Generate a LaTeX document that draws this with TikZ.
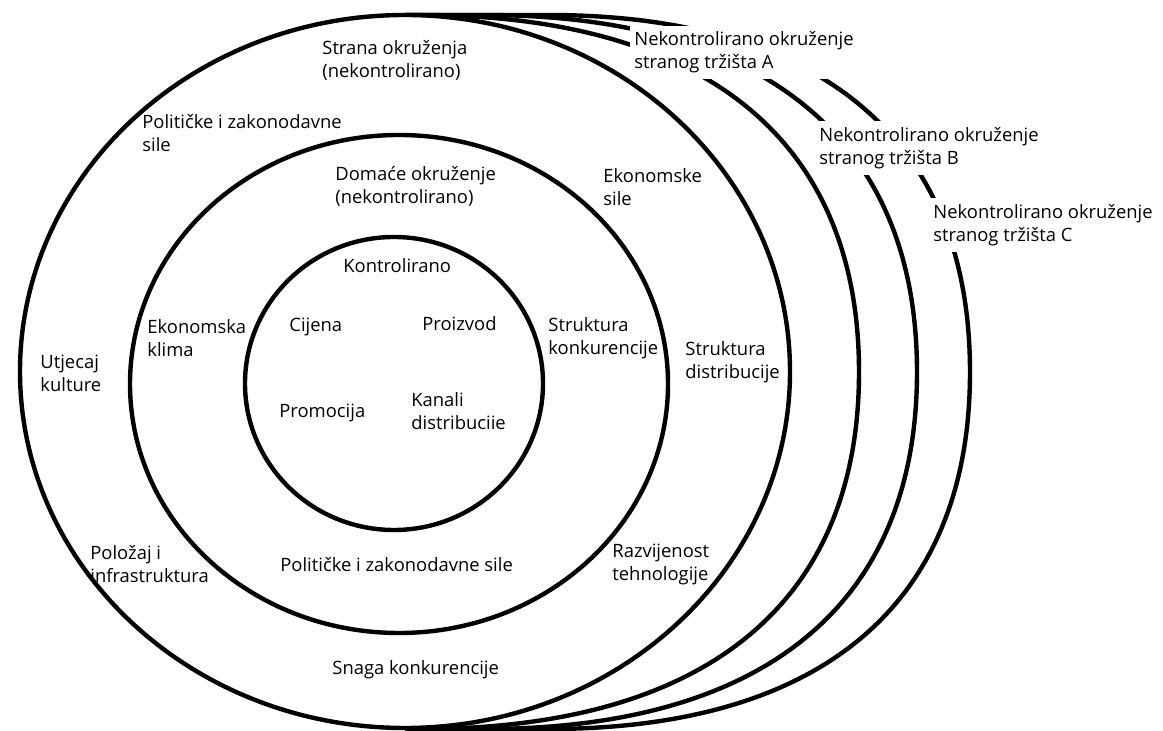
\documentclass[tikz,border=0pt]{standalone}
\usepackage{fontspec}
\setmainfont{Open Sans}
\tikzset{
  ring/.style={line width=2.2pt},
  lbl/.style={anchor=west, align=left, inner sep=0pt, font=\fontsize{9.2}{11.5}\selectfont},
  marketlbl/.style={lbl, fill=white, inner xsep=2pt, inner ysep=3pt}
}
\begin{document}
\begin{tikzpicture}[x=0.5pt,y=-0.5pt]
	\useasboundingbox (0,0) rectangle (1163,731);
	\clip (0,0) rectangle (1163,731);
	% foreign markets C, B, A behind
	\draw[ring] (405,15) -- (548,15) .. controls (822,15) and (970,140) .. (970,372)
		.. controls (970,604) and (822,729) .. (548,729) -- (405,729);
	\draw[ring] (405,15) -- (484,15) .. controls (765,15) and (917,140) .. (917,372)
		.. controls (917,604) and (765,729) .. (484,729) -- (405,729);
	\draw[ring] (405,15) -- (420,15) .. controls (705,15) and (859,140) .. (859,372)
		.. controls (859,604) and (705,729) .. (420,729) -- (405,729);
	% foreign, domestic, controlled
	\draw[ring,fill=white] (405,371.5) ellipse [x radius=385, y radius=356.5];
	\draw[ring] (399,384) ellipse [x radius=269, y radius=249];
	\draw[ring] (394,383.5) ellipse [x radius=149, y radius=146.5];
	% market labels
	\node[marketlbl] (mktA) at (630,52.5) {Nekontrolirano okruženje\\stranog tržišta A};
	\node[marketlbl] (mktB) at (815,148) {Nekontrolirano okruženje\\stranog tržišta B};
	\node[marketlbl] (mktC) at (929,225) {Nekontrolirano okruženje\\stranog tržišta C};
	% foreign ring
	\node[lbl] (strana) at (322,60.5) {Strana okruženja\\(nekontrolirano)};
	\node[lbl] (polTop) at (142,133.5) {Političke i zakonodavne\\sile};
	\node[lbl] (ekoSile) at (603,187.5) {Ekonomske\\sile};
	\node[lbl] (utjecaj) at (40,373.5) {Utjecaj\\kulture};
	\node[lbl] (strukDist) at (685,362.5) {Struktura\\distribucije};
	\node[lbl] (polozaj) at (90,564.5) {Položaj i\\infrastruktura};
	\node[lbl] (razvoj) at (612,564.5) {Razvijenost\\tehnologije};
	\node[lbl] (snaga) at (332,670) {Snaga konkurencije};
	% domestic ring
	\node[lbl] (domace) at (335,186.5) {Domaće okruženje\\(nekontrolirano)};
	\node[lbl] (ekoKlima) at (147,338) {Ekonomska\\klima};
	\node[lbl] (strukKonk) at (548,338) {Struktura\\konkurencije};
	\node[lbl] (polBot) at (280,565) {Političke i zakonodavne sile};
	% controlled
	\node[lbl] (kontrol) at (343,266) {Kontrolirano};
	\node[lbl] (cijena) at (289,327) {Cijena};
	\node[lbl] (proizvod) at (422,324) {Proizvod};
	\node[lbl] (promocija) at (279,413) {Promocija};
	\node[lbl] (kanali) at (411,411) {Kanali\\distribuciie};
\end{tikzpicture}
\end{document}
